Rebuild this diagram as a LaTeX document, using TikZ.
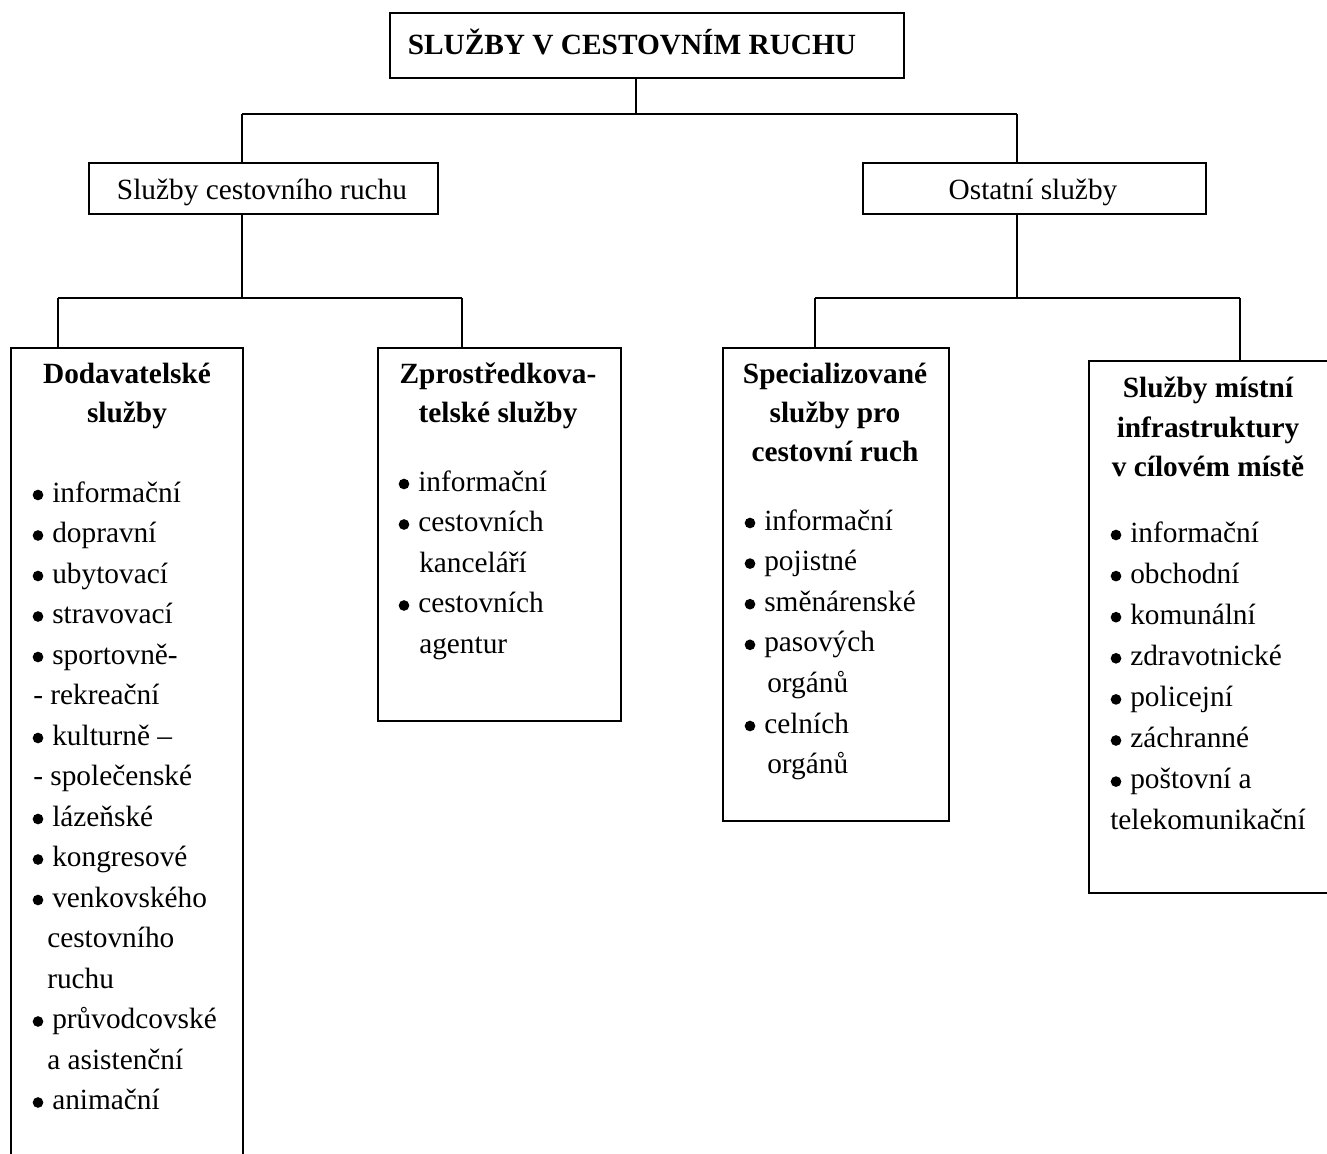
\documentclass[tikz,border=0pt]{standalone}
\usepackage{fontspec}
\setmainfont{Liberation Serif}
\begin{document}
\begin{tikzpicture}[x=0.75pt,y=-0.75pt,
  font=\fontsize{22}{26}\selectfont,
  box/.style={draw, line width=1.4pt, inner sep=0pt, anchor=north west},
  conn/.style={line width=1pt},
  hdr/.style={anchor=base, inner sep=0pt, font=\fontsize{22}{26}\selectfont\bfseries},
  txt/.style={anchor=base west, inner sep=0pt},
  ctr/.style={anchor=base, inner sep=0pt},
  bul/.style={circle, fill, inner sep=0pt, minimum size=8pt}]
\useasboundingbox (0,0) rectangle (1327,1153);
\clip (0,0) rectangle (1327,1153);
% boxes
\node[box, minimum width=514*0.75pt, minimum height=65*0.75pt] (top) at (389,12) {};
\node[box, minimum width=349*0.75pt, minimum height=51*0.75pt] (sc) at (88,162) {};
\node[box, minimum width=343*0.75pt, minimum height=51*0.75pt] (os) at (862,162) {};
\node[box, minimum width=232*0.75pt, minimum height=900*0.75pt] (dod) at (10,347) {};
\node[box, minimum width=243*0.75pt, minimum height=373*0.75pt] (zpr) at (377,347) {};
\node[box, minimum width=226*0.75pt, minimum height=473*0.75pt] (spe) at (722,347) {};
\node[box, minimum width=260*0.75pt, minimum height=532*0.75pt] (mis) at (1088,360) {};
% junctions
\coordinate (j0) at (636,114);
\coordinate (jl) at (242,114);
\coordinate (jr) at (1017,114);
\coordinate (k1) at (242,298);
\coordinate (k2) at (1017,298);
\coordinate (kd) at (58,298);
\coordinate (kz) at (462,298);
\coordinate (ks) at (815,298);
\coordinate (km) at (1240,298);
% connectors
\draw[conn] (top.south -| j0) -- (j0);
\draw[conn] (jl) -- (jr);
\draw[conn] (jl) -- (sc.north -| jl);
\draw[conn] (jr) -- (os.north -| jr);
\draw[conn] (sc.south -| k1) -- (k1);
\draw[conn] (os.south -| k2) -- (k2);
\draw[conn] (kd) -- (kz);
\draw[conn] (ks) -- (km);
\draw[conn] (kd) -- (dod.north -| kd);
\draw[conn] (kz) -- (zpr.north -| kz);
\draw[conn] (ks) -- (spe.north -| ks);
\draw[conn] (km) -- (mis.north -| km);
% texts
\node[hdr] (ttl) at (632,54) {SLUŽBY V CESTOVNÍM RUCHU};
\node[ctr] (tsc) at (262,199) {Služby cestovního ruchu};
\node[ctr] (tos) at (1033,199) {Ostatní služby};
% box 1
\node[hdr] (dh1) at (127,383) {Dodavatelské};
\node[hdr] (dh2) at (127,422) {služby};
\foreach \k/\xx/\t [count=\i from 0] in {1/52/informační, 1/52/dopravní, 1/52/ubytovací, 1/52/stravovací, 1/52/sportovně-, 0/33/- rekreační, 1/52/kulturně –, 0/33/- společenské, 1/52/lázeňské, 1/52/kongresové, 1/52/venkovského, 0/47/cestovního, 0/47/ruchu, 1/52/průvodcovské, 0/47/a asistenční, 1/52/animační}
  {\node[txt] (d\i) at (\xx,502+40.5*\i) {\t};
   \ifnum\k=1 \node[bul] (db\i) at (\xx-14,495+40.5*\i) {};\fi}
% box 2
\node[hdr] (zh1) at (498,383) {Zprostředkova-};
\node[hdr] (zh2) at (498,422) {telské služby};
\foreach \k/\xx/\t [count=\i from 0] in {1/418/informační, 1/418/cestovních, 0/419/kanceláří, 1/418/cestovních, 0/419/agentur}
  {\node[txt] (z\i) at (\xx,491+40.5*\i) {\t};
   \ifnum\k=1 \node[bul] (zb\i) at (\xx-14,484+40.5*\i) {};\fi}
% box 3
\node[hdr] (sh1) at (835,383) {Specializované};
\node[hdr] (sh2) at (835,422) {služby pro};
\node[hdr] (sh3) at (835,461) {cestovní ruch};
\foreach \k/\xx/\t [count=\i from 0] in {1/764/informační, 1/764/pojistné, 1/764/směnárenské, 1/764/pasových, 0/767/orgánů, 1/764/celních, 0/767/orgánů}
  {\node[txt] (s\i) at (\xx,530+40.6*\i) {\t};
   \ifnum\k=1 \node[bul] (sb\i) at (\xx-14,523+40.6*\i) {};\fi}
% box 4
\node[hdr] (mh1) at (1208,397) {Služby místní};
\node[hdr] (mh2) at (1208,437) {infrastruktury};
\node[hdr] (mh3) at (1208,476) {v cílovém místě};
\foreach \k/\xx/\t [count=\i from 0] in {1/1130/informační, 1/1130/obchodní, 1/1130/komunální, 1/1130/zdravotnické, 1/1130/policejní, 1/1130/záchranné, 1/1130/poštovní a, 0/1110/telekomunikační}
  {\node[txt] (m\i) at (\xx,542+41.1*\i) {\t};
   \ifnum\k=1 \node[bul] (mb\i) at (\xx-14,535+41.1*\i) {};\fi}
\end{tikzpicture}
\end{document}
